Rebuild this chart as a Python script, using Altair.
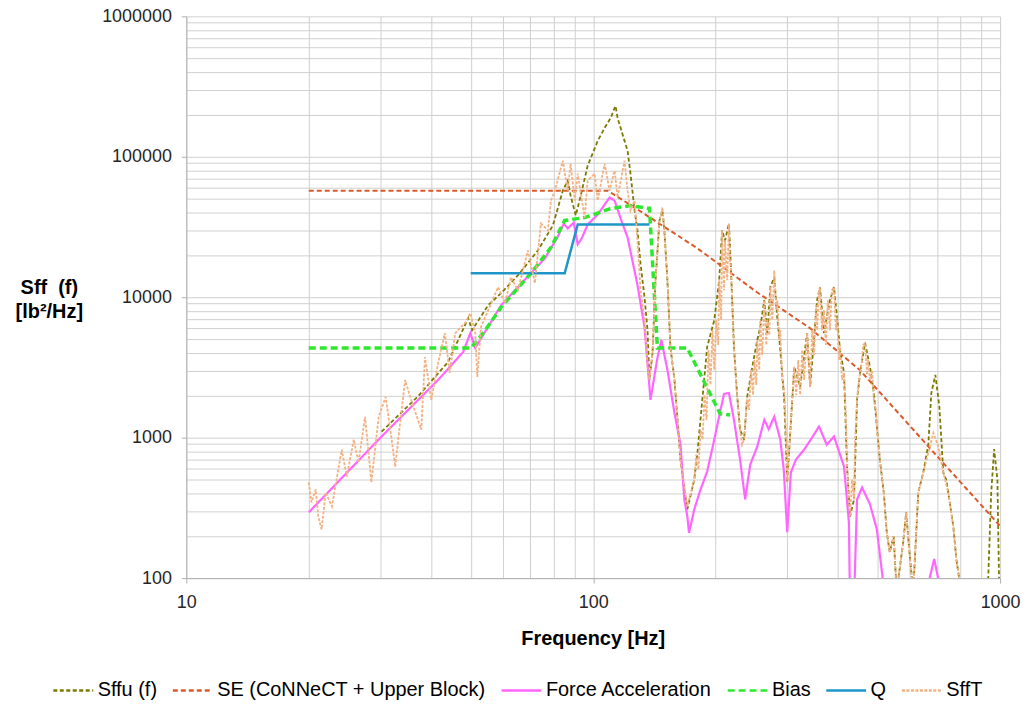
import altair as alt
import pandas as pd

series_names = ["Sffu (f)", "SE (CoNNeCT + Upper Block)", "Force Acceleration", "Bias", "Q", "SffT"]
series_colors = ["#7A7A00", "#DA5A2A", "#FF66FF", "#2EE82E", "#1E96C8", "#F4B183"]
series_dashes = [[4, 2.5], [5, 3], [1, 0], [7, 4], [1, 0], [3, 1.5]]
series_widths = [1.8, 2, 2.2, 3.5, 2.5, 1.8]

sffu_f = [30.2, 37.2, 44.0, 49.3, 50.4, 55.2, 59.4, 65.3, 73.1, 79.6, 84.2, 86.6, 88.0, 90.6, 93.2, 96.9,
          102.6, 106.7, 110.4, 112.9, 113.5, 114.8, 119.4, 121.5, 123.5, 126.4, 128.5, 130.7, 133.7, 136.0,
          137.5, 139.9, 142.3, 145.5, 148.0, 149.6, 152.2, 154.8, 158.4, 161.2, 163.9, 167.5, 170.4, 177.2,
          180.4, 185.7, 190.6, 198.4, 204.0, 207.4, 210.9, 215.6, 218.0, 221.8, 225.6, 229.6, 234.9, 239.0,
          246.0, 253.1, 257.4, 263.4, 267.9, 272.5, 278.6, 283.4, 288.3, 294.8, 299.8, 305.0, 312.0, 322.6,
          335.6, 341.3, 355.0, 360.9, 369.0, 381.8, 390.6, 397.4, 404.2, 413.5, 420.6, 427.8, 437.6, 445.1,
          452.8, 465.7, 479.0, 489.6, 497.9, 506.4, 517.8, 526.6, 535.6, 547.6, 557.0, 577.9, 587.8, 597.8,
          611.6, 629.4, 647.5, 666.3, 677.7, 693.3, 709.2, 725.2, 737.5, 745.9, 767.4, 780.6, 794.0, 810,
          930, 935, 951, 967, 985, 994, 1000]
sffu_v = [1103, 1986, 3460, 7100, 5830, 8780, 10700, 14300, 21500, 32400, 57400, 67600, 52900, 38200, 52900, 86300,
          129800, 160600, 189000, 222700, 230000, 189000, 129800, 110300, 75800, 41400, 29900, 17400, 10000, 5830,
          2580, 4010, 13200, 35200, 41400, 29900, 13200, 4420, 2580, 1340, 698, 428, 309, 504,
          783, 1950, 4420, 6870, 13200, 29900, 25400, 33500, 16300, 4420, 2080, 1140, 968, 1950,
          3190, 4960, 6130, 9520, 5550, 11800, 13900, 7210, 4210, 1860, 480, 1080, 3190, 2300,
          5550, 2300, 9520, 11800, 5550, 9520, 11800, 7210, 4210, 2890, 623, 275, 363, 1860,
          2890, 4720, 3190, 2080, 1200, 698, 407, 212, 153, 199, 80, 180, 294, 161,
          80, 407, 565, 900, 2080, 2800, 1660, 565, 500, 407, 234, 137, 98, 60,
          60, 100, 407, 830, 500, 100, 70]

se_f = [20, 108.5, 126.4, 180.3, 252.7, 340.8, 451.6, 670.2, 1000]
se_v = [57400, 57400, 43500, 22300, 10850, 6030, 3040, 850, 235]

fa_f = [20.0, 30.2, 41.6, 47.9, 49.9, 51.3, 59.4, 70.2, 76.1, 81.9, 84.7, 86.6, 89.6, 91.6, 93.7, 96.9,
        102.6, 109.7, 112.9, 116.8, 121.5, 128.5, 133.7, 138.3, 143.8, 147.1, 152.2, 158.4, 163.9, 167.5,
        170.4, 172.0, 177.2, 183.6, 190.6, 198.4, 205.1, 209.7, 215.6, 221.8, 229.6, 236.3, 243.2, 253,
        263.4, 270, 278.6, 288.3, 294, 299.8, 306, 315, 329.9, 345, 358.9, 375, 390.6, 413.5, 425, 428,
        437, 445.1, 457.9, 479, 497.9, 515, 520, 660, 670, 689, 705, 715]
fa_v = [294, 1020, 2580, 4070, 5550, 4350, 8780, 14800, 18900, 27100, 33500, 30900, 34000, 23800, 26200, 32900,
        38800, 51200, 48700, 36300, 26600, 12200, 6130, 1860, 3690, 4960, 3040, 1500, 892, 363,
        275, 210, 309, 428, 574, 968, 1530, 2050, 2080, 1340, 698, 363, 643, 863,
        1340, 1150, 1410, 968, 593, 212, 565, 698, 822, 1000, 1200, 892, 1020, 623, 250, 60,
        60, 363, 442, 335, 222, 98, 60, 60, 98, 137, 98, 60]

bias_f = [20, 50.1, 54.3, 59.4, 70.3, 78.7, 85.1, 95.3, 110.4, 123.6, 135.9, 137.5, 143.8, 170.3, 205.1, 216.9]
bias_v = [4350, 4350, 5830, 8490, 14800, 22600, 35200, 36900, 42800, 44900, 43000, 43000, 4350, 4350, 1480, 1450]

q_f = [50, 85.1, 91.6, 137.5]
q_v = [14800, 14800, 32900, 32900]

sfft_f = [20.0, 20.3, 20.8, 21.1, 21.5, 22.0, 22.8, 24.1, 24.8, 25.8, 26.5, 27.5, 28.5, 29.7, 30.9, 31.9,
          32.6, 34.5, 35.7, 37.8, 38.6, 40.0, 41.6, 43.2, 44.4, 45.8, 48.4, 49.9, 51.3, 51.9, 53.0, 55.2,
          58.4, 60.7, 62.8, 65.3, 69.1, 71.9, 74.4, 77.4, 78.7, 80.5, 84.2, 86.6, 88.0, 90.1, 91.6, 95.3,
          96.9, 100.8, 102.6, 106.7, 109.7, 112.9, 114.8, 119.4, 121.5, 123.5, 126.4, 128.5, 130.7, 133.7,
          136.0, 137.5, 139.9, 142.3, 145.5, 148.0, 149.6, 152.2, 154.8, 158.4, 161.2, 163.9, 167.5, 170.4,
          177.2, 179.2, 181.4, 183.6, 185.7, 187.8, 189.9, 192.0, 194.2, 196.4, 198.4, 200.6, 202.9, 204.0,
          206.3, 207.4, 209.7, 210.9, 213.5, 215.6, 216.8, 218.0, 220.5, 221.8, 224.3, 225.6, 228.2, 229.6,
          232.2, 234.9,
          239.0, 241.6, 244.4, 247.1, 248.9, 251.7, 253.1, 256.0, 257.4, 260.3, 263.4, 266.4, 267.9, 271.0,
          272.5, 275.6, 278.6, 281.8, 283.4, 286.6, 288.3, 291.5, 294.8, 298.2, 299.8, 303.2, 305.0, 308.4,
          312.0, 315.5, 319.1, 322.6, 326.3, 329.9, 335.6, 339.4, 341.3, 345.2, 349.1, 353.0, 355.0, 358.9,
          360.9, 365.0, 369.0, 373.2, 377.4, 381.8, 386.1, 390.6, 395.0, 397.4, 401.9, 404.2, 408.8, 413.5,
          418.2, 420.6, 425.3, 427.8, 432.8, 437.6, 440.2, 445.1, 450.3, 452.8, 457.9, 460.6, 465.7, 471.0,
          473.8, 479.0, 484.5, 489.6, 495.2, 497.9,
          506.4, 517.8, 526.6, 535.6, 547.6, 557.0, 577.9, 587.8,
          597.8, 611.6, 629.4, 647.5, 666.3, 685.6, 705.1, 725.2, 745.9, 767.4, 780.6, 794.0, 820]
sfft_v = [480, 346, 428, 275, 222, 407, 324, 822, 529, 968, 665, 1410, 480, 1410, 1950, 1020,
          623, 2580, 1860, 1140, 3750, 1860, 3400, 5550, 2890, 5550, 6540, 7700, 5550, 2710, 6130, 8090,
          11800, 9070, 13900, 11200, 21500, 12600, 33500, 29900, 48700, 57400, 93700, 57400, 89200, 48700, 75800, 36900,
          67600, 75800, 48700, 89200, 57400, 79600, 51200, 93700, 57400, 41400, 48700, 25400, 11200, 6870,
          3190, 2580, 4010, 13200, 35200, 43500, 29900, 13200, 4420, 2580, 1340, 698, 449, 324,
          504, 757, 593, 1140, 968, 2018, 1340, 4210, 2376, 5830, 3040, 6870, 4566, 13200,
          6870, 29900, 11200, 25400, 13200, 33500, 18300, 16300, 6870, 4420, 2580, 2080, 1340, 1140,
          892, 968,
          1950, 1580, 3040, 2018, 3570, 2376, 4960, 3040, 6870, 3880, 9520, 4566, 6870, 5377,
          11800, 6870, 15540, 8090, 9520, 4960, 5830, 2580, 2190, 968, 480, 822, 1080, 1860,
          3190, 2018, 3570, 2018, 4210, 2580, 5550, 3040, 2300, 5830, 3880, 8780, 5830, 11200,
          11800, 5830, 8090, 4566, 9520, 5830, 11200, 11800, 5830, 7210, 3570, 4566, 2580, 2890,
          1340, 623, 363, 275, 504, 363, 968, 1860, 2580, 2890, 3570, 4566, 4720, 2800,
          3570, 2580, 3040, 1860, 1580, 1200,
          698, 407, 212, 153, 199, 80, 180, 294,
          161, 80, 407, 565, 783, 1080, 863, 565, 407, 234, 137, 98, 60]

x_grid = [10, 20, 30, 40, 50, 60, 70, 80, 90, 100, 200, 300, 400, 500, 600, 700, 800, 900, 1000]
y_grid = [100, 200, 300, 400, 500, 600, 700, 800, 900,
          1000, 2000, 3000, 4000, 5000, 6000, 7000, 8000, 9000,
          10000, 20000, 30000, 40000, 50000, 60000, 70000, 80000, 90000,
          100000, 200000, 300000, 400000, 500000, 600000, 700000, 800000, 900000, 1000000]

all_data = [(sffu_f, sffu_v), (se_f, se_v), (fa_f, fa_v), (bias_f, bias_v), (q_f, q_v), (sfft_f, sfft_v)]
frames = []
for name, (fs, vs) in zip(series_names, all_data):
    frames.append(pd.DataFrame({"f": fs, "v": vs, "series": name}))
df = pd.concat(frames, ignore_index=True)

is_major = "abs(log(datum.value)/LN10 - round(log(datum.value)/LN10)) < 0.000001"
label_expr = is_major + " ? format(datum.value, 'd') : ''"
tick_op = {"condition": {"test": is_major, "value": 1}, "value": 0}

FONT = "Liberation Sans"

x_enc = alt.X("f:Q",
              scale=alt.Scale(type="log", domain=[10, 1000], nice=False),
              axis=alt.Axis(values=x_grid, labelExpr=label_expr, labelFlush=False, labelOverlap=False,
                            title="Frequency [Hz]", titleFontSize=20, titleFontWeight="bold",
                            titleX=408, titleY=61, titleBaseline="middle", titleAlign="center",
                            labelFontSize=18, labelPadding=10, tickSize=5, tickOpacity=tick_op))
y_enc = alt.Y("v:Q",
              scale=alt.Scale(type="log", domain=[100, 1000000], nice=False),
              axis=alt.Axis(values=y_grid, labelExpr=label_expr, labelOverlap=False,
                            title=["Sff \u00a0(f)", "[lb²/Hz]"], titleAngle=0, titleX=-138, titleY=272,
                            titleAlign="center", titleBaseline="middle", titleLineHeight=24,
                            titleFontSize=20, titleFontWeight="bold",
                            labelFontSize=18, labelPadding=10, tickSize=5, tickOpacity=tick_op))

legend = alt.Legend(orient="none", legendX=-135, legendY=655, direction="horizontal", columns=6,
                    title=None, symbolType="stroke", symbolSize=1600, symbolStrokeWidth=2.5,
                    labelFontSize=20, labelFont=FONT, labelColor="#000000", columnPadding=10,
                    labelOffset=3, labelLimit=0)

color_enc = alt.Color("series:N", scale=alt.Scale(domain=series_names, range=series_colors), legend=legend)
dash_enc = alt.StrokeDash("series:N", scale=alt.Scale(domain=series_names, range=series_dashes), legend=legend)

base = alt.Chart(df).encode(x=x_enc, y=y_enc, color=color_enc, strokeDash=dash_enc,
                            order=alt.Order("f:Q"))

layers = []
for name, w in zip(series_names, series_widths):
    layers.append(base.transform_filter(alt.datum.series == name).mark_line(clip=True, strokeWidth=w))

chart = alt.layer(*layers).properties(
    width=817, height=564,
    autosize=alt.AutoSizeParams(type="none"),
    padding={"left": 179, "top": 7, "right": 22, "bottom": 124},
).configure_view(stroke="transparent").configure_axis(
    gridColor="#D0D0D0", gridWidth=1, domainColor="#B0B0B0", tickColor="#B0B0B0",
    labelFont=FONT, titleFont=FONT, labelColor="#262626", titleColor="#000000",
)

chart.save("out.html", embed_options={"renderer": "svg", "actions": False})
